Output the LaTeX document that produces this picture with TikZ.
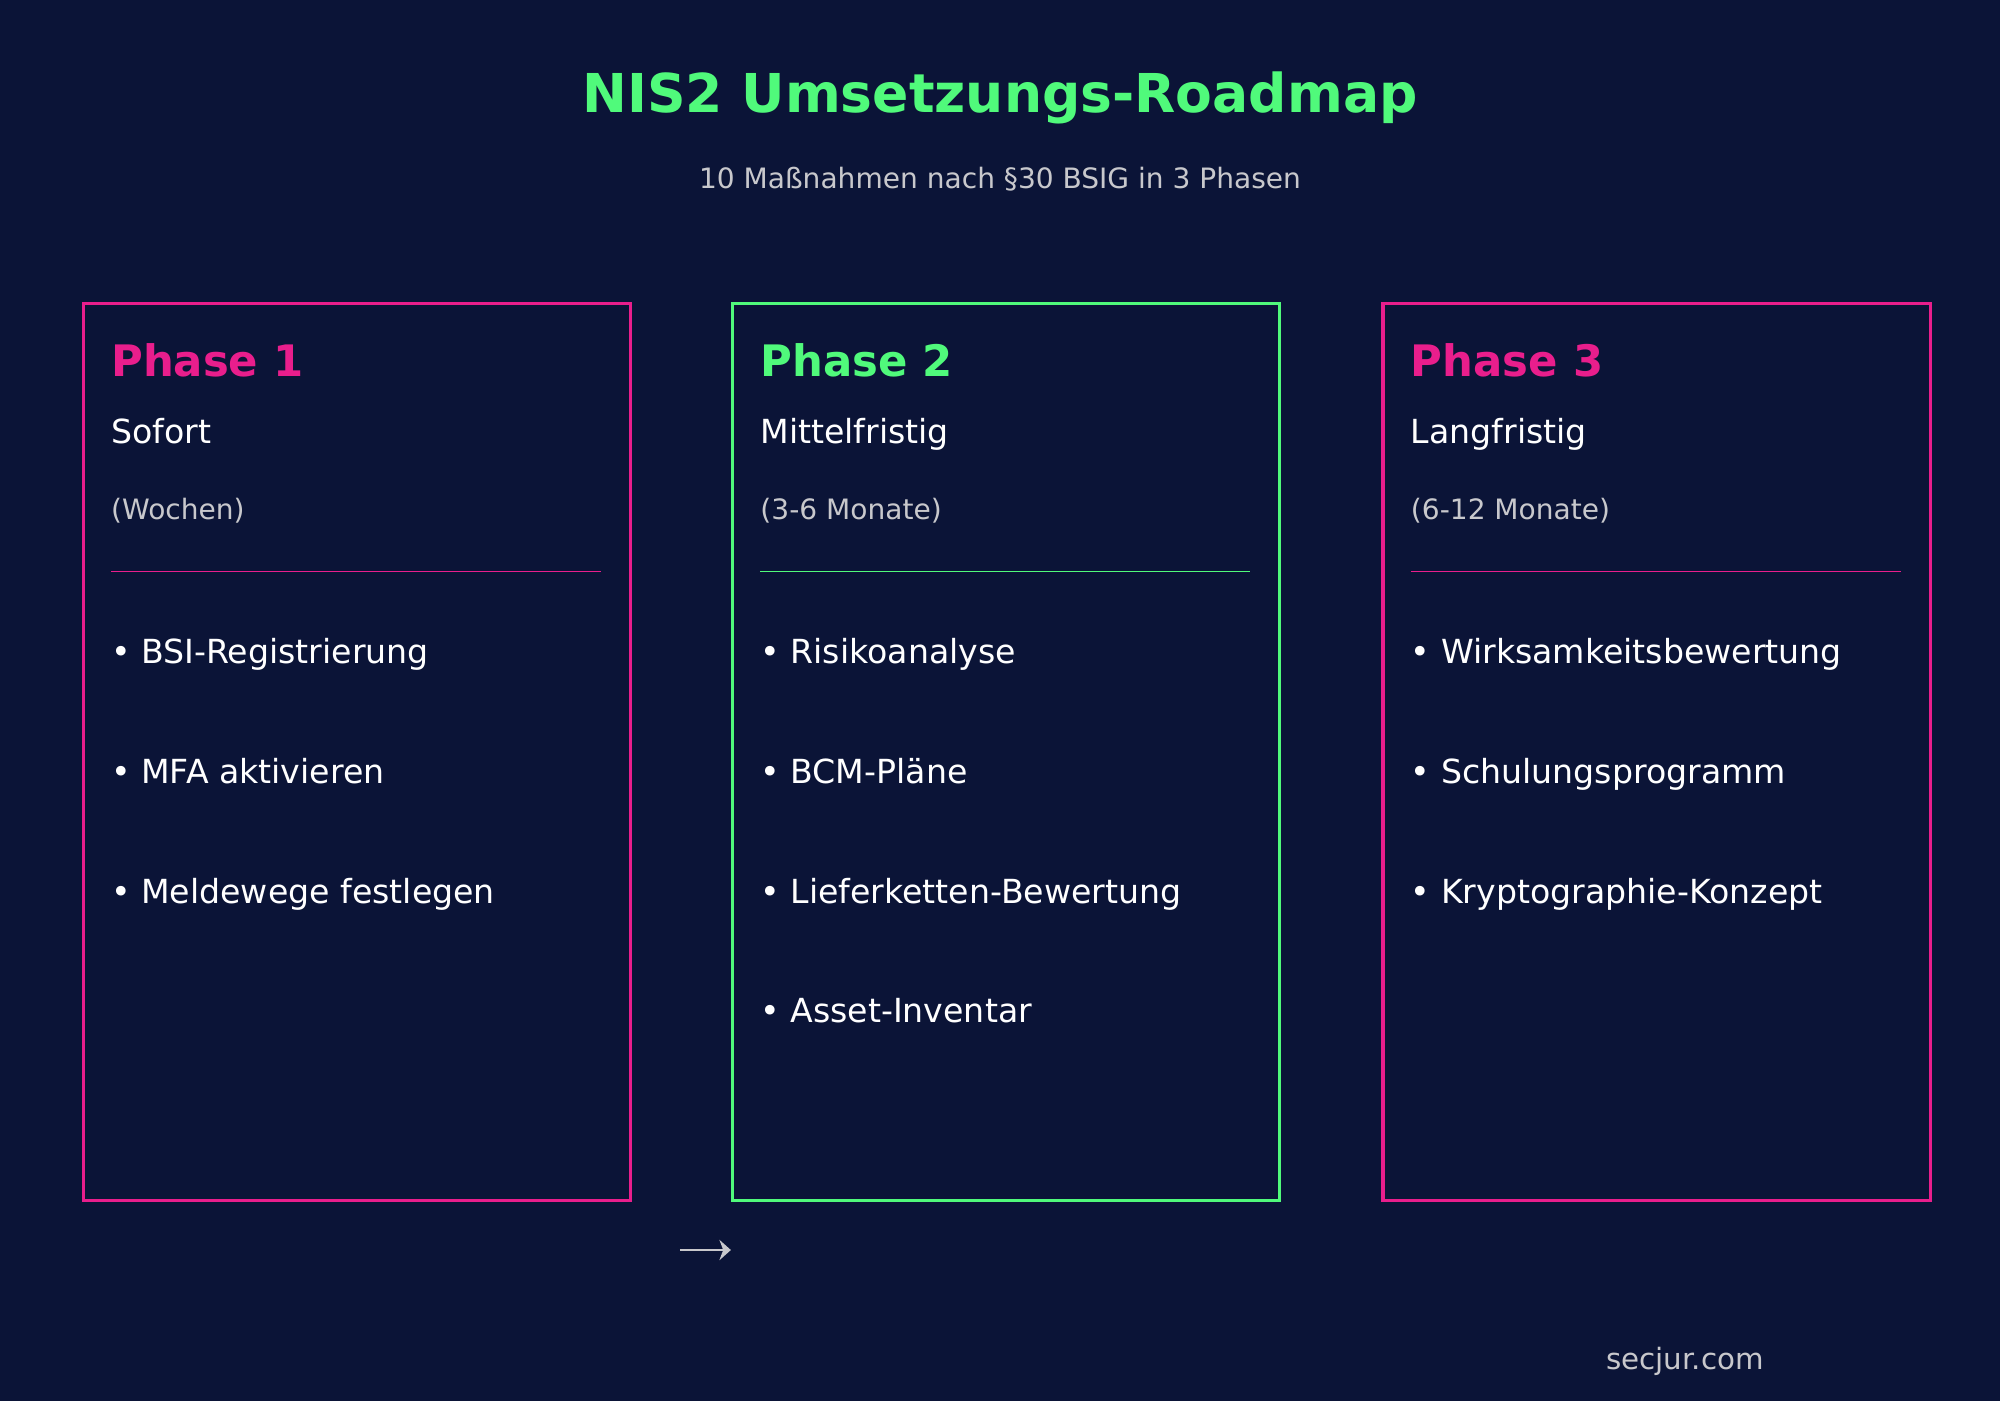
\documentclass[tikz,border=0pt]{standalone}
\usepackage{fontspec}
\setmainfont{DejaVu Sans}
\usetikzlibrary{arrows.meta}
\definecolor{bg}{HTML}{0B1437}
\definecolor{pk}{HTML}{E91E8C}
\definecolor{gn}{HTML}{50FA7B}
\definecolor{gy}{HTML}{C8C8CC}
\tikzset{x=1pt,y=-1pt,
 box/.style={draw=#1,line width=2.5pt,minimum width=429pt,minimum height=703pt,anchor=north west,inner sep=0pt},
 ph/.style={anchor=base west,text=#1,font=\fontsize{34}{40}\selectfont\bfseries,inner sep=0pt},
 sub/.style={anchor=base west,text=white,font=\fontsize{26}{30}\selectfont,inner sep=0pt},
 dur/.style={anchor=base west,text=gy,font=\fontsize{22}{26}\selectfont,inner sep=0pt},
 item/.style={anchor=base west,text=white,font=\fontsize{26}{30}\selectfont,inner sep=0pt}}
\begin{document}
\begin{tikzpicture}
\fill[bg] (0,0) rectangle (1568,1098);
\useasboundingbox (0,0) rectangle (1568,1098);
\node[anchor=base,text=gn,font=\fontsize{42}{48}\selectfont\bfseries,inner sep=0pt] (title) at (784,88) {NIS2 Umsetzungs-Roadmap};
\node[anchor=base,text=gy,font=\fontsize{22}{26}\selectfont,inner sep=0pt] (subtitle) at (784,148) {10 Maßnahmen nach §30 BSIG in 3 Phasen};
% phase 1
\node[box=pk] (b1) at (64,237) {};
\node[ph=pk] (p1) at (87,295) {Phase 1};
\node[sub] (s1) at (87,348) {Sofort};
\node[dur] (d1) at (87,407) {(Wochen)};
\draw[pk,line width=1.2pt] (87,448) -- (471,448);
\node[item] (i11) at (87,520) {• BSI-Registrierung};
\node[item] (i12) at (87,614) {• MFA aktivieren};
\node[item] (i13) at (87,708) {• Meldewege festlegen};
% phase 2
\node[box=gn] (b2) at (573,237) {};
\node[ph=gn] (p2) at (596,295) {Phase 2};
\node[sub] (s2) at (596,348) {Mittelfristig};
\node[dur] (d2) at (596,407) {(3-6 Monate)};
\draw[gn,line width=1.2pt] (596,448) -- (980,448);
\node[item] (i21) at (596,520) {• Risikoanalyse};
\node[item] (i22) at (596,614) {• BCM-Pläne};
\node[item] (i23) at (596,708) {• Lieferketten-Bewertung};
\node[item] (i24) at (596,802) {• Asset-Inventar};
% phase 3
\node[box=pk] (b3) at (1083,237) {};
\node[ph=pk] (p3) at (1106,295) {Phase 3};
\node[sub] (s3) at (1106,348) {Langfristig};
\node[dur] (d3) at (1106,407) {(6-12 Monate)};
\draw[pk,line width=1.2pt] (1106,448) -- (1490,448);
\node[item] (i31) at (1106,520) {• Wirksamkeitsbewertung};
\node[item] (i32) at (1106,614) {• Schulungsprogramm};
\node[item] (i33) at (1106,708) {• Kryptographie-Konzept};
% arrow
\coordinate (a0) at (533,980);
\coordinate (a1) at (573,980);
\draw[gy,line width=2pt,-{Stealth[length=9pt,width=16pt,inset=3pt]}] (a0) -- (a1);
\node[anchor=base,text=gy,font=\fontsize{23}{27}\selectfont,inner sep=0pt] (web) at (1321,1074) {secjur.com};
\end{tikzpicture}
\end{document}
